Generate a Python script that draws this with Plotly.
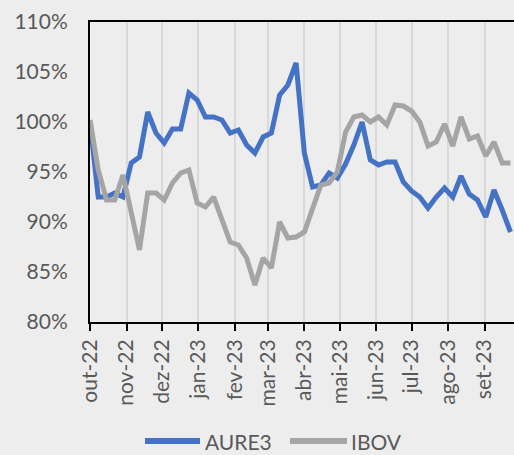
import pandas as pd
import plotly.graph_objects as go

start_date = "2022-10-01"
n_weeks = 52
dates = pd.date_range(start_date, periods=n_weeks, freq="7D")

aure3 = [100.0, 92.5, 92.5, 92.9, 92.5, 95.9, 96.5, 101.0, 98.9, 97.9,
         99.3, 99.3, 102.9, 102.2, 100.5, 100.5, 100.2, 98.9, 99.2, 97.7,
         96.9, 98.5, 98.9, 102.7, 103.7, 105.9, 96.9, 93.5, 93.7, 94.9,
         94.4, 95.8, 97.7, 100.0, 96.2, 95.7, 96.0, 96.0, 94.0, 93.1,
         92.5, 91.4, 92.5, 93.4, 92.5, 94.6, 92.8, 92.2, 90.5, 93.2,
         91.2, 89.0]

ibov = [100.2, 95.2, 92.2, 92.2, 94.7, 91.0, 87.2, 92.9, 92.9, 92.2,
        93.9, 94.9, 95.2, 91.9, 91.5, 92.5, 90.2, 88.0, 87.7, 86.4,
        83.7, 86.4, 85.4, 90.0, 88.4, 88.5, 89.0, 91.5, 93.7, 93.9,
        95.0, 99.0, 100.5, 100.7, 100.0, 100.5, 99.7, 101.7, 101.6, 101.1,
        100.0, 97.6, 98.0, 99.8, 97.6, 100.5, 98.3, 98.6, 96.6, 98.0,
        95.9, 95.9]

series_names = ["AURE3", "IBOV"]
series_colors = ["#4472C4", "#A5A5A5"]

tick_dates = ["2022-10-01", "2022-11-01", "2022-12-01", "2023-01-01", "2023-02-01",
              "2023-03-01", "2023-04-01", "2023-05-01", "2023-06-01", "2023-07-01",
              "2023-08-01", "2023-09-01"]
tick_labels = ["out-22", "nov-22", "dez-22", "jan-23", "fev-23", "mar-23",
               "abr-23", "mai-23", "jun-23", "jul-23", "ago-23", "set-23"]

y_ticks = [80, 85, 90, 95, 100, 105, 110]
y_labels = [f"{v}%" for v in y_ticks]

BG = "#EDEDED"
TXT = "#595959"
FONT = "Lato"

W, H = 514, 455
ML, MR, MT, MB = 90, 0, 22, 133
PW, PH = W - ML - MR, H - MT - MB


def px_to_paper_x(px):
    return (px - ML) / PW


def px_to_paper_y(py):
    return (H - MB - py) / PH


fig = go.Figure()
for name, vals, col in zip(series_names, [aure3, ibov], series_colors):
    fig.add_trace(go.Scatter(x=dates, y=vals, name=name, mode="lines",
                             line=dict(color=col, width=5), showlegend=False))

# manual legend (Excel-like long line swatches)
legend_y = 441
legend_items = [(145, 200, 204), (290, 347, 350)]
for (x0, x1, tx), name, col in zip(legend_items, series_names, series_colors):
    fig.add_shape(type="line", xref="paper", yref="paper",
                  x0=px_to_paper_x(x0), x1=px_to_paper_x(x1),
                  y0=px_to_paper_y(legend_y), y1=px_to_paper_y(legend_y),
                  line=dict(color=col, width=6))
    fig.add_annotation(text=name, xref="paper", yref="paper",
                       x=px_to_paper_x(tx), y=px_to_paper_y(legend_y),
                       xanchor="left", yanchor="middle", showarrow=False,
                       borderpad=0,
                       font=dict(family=FONT, size=21, color=TXT))

fig.update_layout(
    width=W, height=H,
    margin=dict(l=ML, r=MR, t=MT, b=MB),
    paper_bgcolor=BG, plot_bgcolor=BG,
    font=dict(family=FONT, color=TXT, size=21),
    showlegend=False,
)

fig.update_xaxes(
    type="date",
    range=["2022-10-01", "2023-09-26"],
    tickvals=tick_dates, ticktext=tick_labels, tickangle=-90,
    showgrid=True, gridcolor="#D9D9D9", gridwidth=1.5,
    showline=True, linecolor="black", linewidth=2, mirror=True,
    ticks="outside", ticklen=7, tickwidth=2, tickcolor="black",
    tickfont=dict(family=FONT, size=21, color=TXT),
    zeroline=False,
)
fig.update_yaxes(
    range=[80, 110],
    tickvals=y_ticks, ticktext=y_labels,
    showgrid=False, zeroline=False,
    showline=True, linecolor="black", linewidth=2, mirror=False,
    ticks="", ticklabelstandoff=16,
    tickfont=dict(family=FONT, size=21, color=TXT),
)

fig.write_html(
    "out.html",
    config={"displayModeBar": False},
    post_script="document.body.style.margin='0';document.body.style.padding='0';"
                "document.body.style.overflow='hidden';"
                "document.body.style.background='" + BG + "';",
)
